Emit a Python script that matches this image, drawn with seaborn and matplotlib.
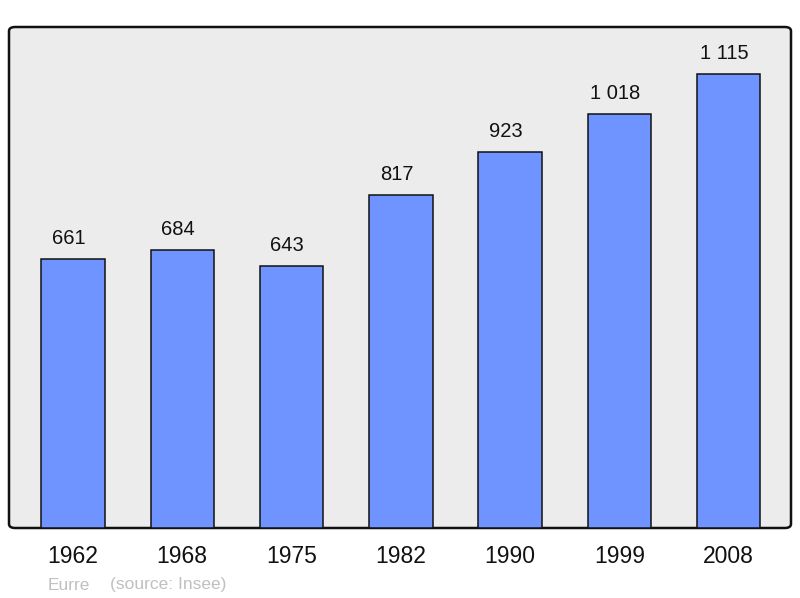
#!/usr/bin/env python3

import matplotlib
matplotlib.use("Agg")
import matplotlib.pyplot as plt
from matplotlib.patches import FancyBboxPatch
import seaborn as sns
import pandas as pd

years = ["1962", "1968", "1975", "1982", "1990", "1999", "2008"]
population = [661, 684, 643, 817, 923, 1018, 1115]
place = "Eurre"
source = "(source: Insee)"

sns.set_style("white")
plt.rcParams["font.family"] = ["Liberation Sans", "DejaVu Sans"]

df = pd.DataFrame({"year": years, "pop": population})

fig = plt.figure(figsize=(8, 5.98), dpi=100)
ax = fig.add_axes([9 / 800, 70 / 598, 782 / 800, 501 / 598])
ax.set_facecolor("none")

# rounded frame with grey fill
frame = FancyBboxPatch((0, 0), 1, 1, boxstyle="round,pad=0,rounding_size=0.008",
                       transform=ax.transAxes, facecolor="#ececec",
                       edgecolor="#111111", linewidth=1.8, zorder=0, clip_on=False)
ax.add_patch(frame)

sns.barplot(data=df, x="year", y="pop", color="#7094ff", saturation=1,
            width=0.58, edgecolor="#111111", linewidth=1.1, ax=ax, zorder=2)

for i, v in enumerate(population):
    ax.annotate(f"{v:,}".replace(",", " "), (i, v), xytext=(-3, 8),
                textcoords="offset points", ha="center", va="bottom",
                fontsize=14.5, color="#111111")

ax.set_ylim(0, 1231)
ax.set_xlim(-0.585, 6.57)
for s in ax.spines.values():
    s.set_visible(False)
ax.set_yticks([])
ax.set_xlabel("")
ax.set_ylabel("")
ax.tick_params(axis="x", length=0, pad=12, labelsize=16.5, labelcolor="#111111")

fig.text(48 / 800, 1 - 585 / 598, place, color="#c0c0c0", fontsize=12.5,
         ha="left", va="center")
fig.text(110 / 800, 1 - 585 / 598, source, color="#c0c0c0", fontsize=12.5,
         ha="left", va="center")

plt.savefig("out.png", dpi=100)
